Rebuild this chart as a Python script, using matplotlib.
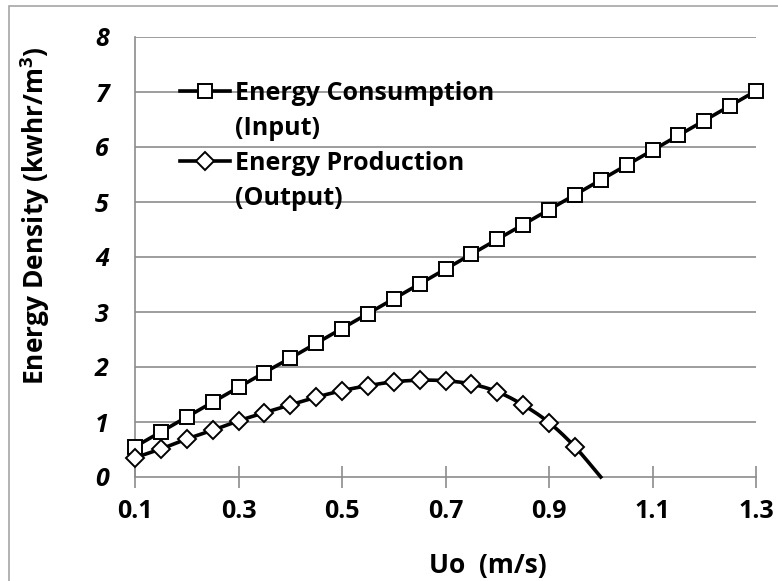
import numpy as np
import matplotlib
matplotlib.use('Agg')
import matplotlib.pyplot as plt
from matplotlib.lines import Line2D
from matplotlib.patches import Rectangle

plt.rcParams['font.family'] = ['Open Sans', 'DejaVu Sans']
plt.rcParams['font.weight'] = 'bold'
plt.rcParams['mathtext.fontset'] = 'custom'
plt.rcParams['mathtext.bf'] = 'Open Sans:bold'

# velocity (m/s)
u_in = [0.10, 0.15, 0.20, 0.25, 0.30, 0.35, 0.40, 0.45, 0.50, 0.55, 0.60, 0.65, 0.70,
        0.75, 0.80, 0.85, 0.90, 0.95, 1.00, 1.05, 1.10, 1.15, 1.20, 1.25, 1.30]
e_in = [0.55, 0.82, 1.09, 1.36, 1.63, 1.90, 2.16, 2.43, 2.70, 2.97, 3.24, 3.51, 3.78,
        4.05, 4.32, 4.59, 4.86, 5.13, 5.40, 5.67, 5.94, 6.21, 6.48, 6.75, 7.02]

u_out = [0.10, 0.15, 0.20, 0.25, 0.30, 0.35, 0.40, 0.45, 0.50, 0.55, 0.60, 0.65, 0.70,
         0.75, 0.80, 0.85, 0.90, 0.95, 1.00]
e_out = [0.35, 0.51, 0.69, 0.85, 1.02, 1.17, 1.31, 1.45, 1.57, 1.66, 1.73, 1.76, 1.75,
         1.69, 1.55, 1.31, 0.99, 0.55, 0.00]

xticks = [0.1, 0.3, 0.5, 0.7, 0.9, 1.1, 1.3]
yticks = [0, 1, 2, 3, 4, 5, 6, 7, 8]


def smooth(x, y, n=20):
    # Catmull-Rom through the points, like a smoothed line in a spreadsheet
    x = np.asarray(x, float)
    y = np.asarray(y, float)
    px = np.concatenate([[2 * x[0] - x[1]], x, [2 * x[-1] - x[-2]]])
    py = np.concatenate([[2 * y[0] - y[1]], y, [2 * y[-1] - y[-2]]])
    xs, ys = [], []
    t = np.linspace(0, 1, n, endpoint=False)
    for i in range(1, len(px) - 2):
        for p, out in ((px, xs), (py, ys)):
            p0, p1, p2, p3 = p[i - 1], p[i], p[i + 1], p[i + 2]
            out.extend(0.5 * (2 * p1 + (-p0 + p2) * t
                              + (2 * p0 - 5 * p1 + 4 * p2 - p3) * t ** 2
                              + (-p0 + 3 * p1 - 3 * p2 + p3) * t ** 3))
    xs.append(x[-1])
    ys.append(y[-1])
    return np.array(xs), np.array(ys)


fig = plt.figure(figsize=(7.78, 5.81), dpi=100)
ax = fig.add_axes([135 / 778, 1 - 477 / 581, (756 - 135) / 778, (477 - 37) / 581])

# chart border
fig.patches.append(Rectangle((9 / 778, -0.1), 1.2, 1 - 6 / 581 + 0.1,
                             transform=fig.transFigure, fill=False,
                             edgecolor='#a6a6a6', linewidth=1.2))

grid_c = '#8c8c8c'
for yv in yticks[1:]:
    ax.axhline(yv, color=grid_c, linewidth=1.2, zorder=1)

sq = dict(color='black', linewidth=2.6, marker='s', markersize=10,
          markerfacecolor='white', markeredgecolor='black', markeredgewidth=1.4)
dm = dict(color='black', linewidth=2.6, marker='D', markersize=9,
          markerfacecolor='white', markeredgecolor='black', markeredgewidth=1.4)

ax.plot(u_in, e_in, zorder=3, clip_on=False, **sq)

sx, sy = smooth(u_out, e_out)
ax.plot(sx, sy, color='black', linewidth=2.6, zorder=3, clip_on=False)
ax.plot(u_out[:-1], e_out[:-1], linestyle='none', zorder=4, clip_on=False,
        **{k: v for k, v in dm.items() if k not in ('color', 'linewidth')})

ax.set_xlim(0.1, 1.3)
ax.set_ylim(0, 8)
ax.set_xticks(xticks)
ax.set_xticklabels([f'{v:.1f}' for v in xticks], fontsize=18, fontweight='bold')
ax.set_yticks(yticks)
ax.set_yticklabels([str(v) for v in yticks], fontsize=18, fontweight='bold', style='italic')

for s in ['top', 'right']:
    ax.spines[s].set_visible(False)
for s in ['left', 'bottom']:
    ax.spines[s].set_color(grid_c)
    ax.spines[s].set_linewidth(1.2)
ax.spines['bottom'].set_zorder(2)
ax.tick_params(axis='x', direction='inout', length=16, width=1.2, color=grid_c, pad=8)
ax.tick_params(axis='y', length=0, pad=19)

blank = Line2D([], [], linestyle='none')
handles = [Line2D([], [], **sq), blank, Line2D([], [], **dm), blank]
labels = ['Energy Consumption', '(Input)', 'Energy Production', '(Output)']
leg = ax.legend(handles, labels, loc='upper left', bbox_to_anchor=(0.072, 0.90),
                frameon=False, fontsize=18, handlelength=2.0, handletextpad=0.2,
                labelspacing=0.4, borderaxespad=0, borderpad=0)
for t in leg.get_texts():
    t.set_fontweight('bold')

fig.text(488 / 778, 1 - 565 / 581, 'Uo  (m/s)', ha='center', va='center',
         fontsize=19, fontweight='bold')
fig.text(35 / 778, 1 - 216 / 581, 'Energy Density (kwhr/m$^\\mathbf{3}$)', ha='center',
         va='center', rotation=90, fontsize=19, fontweight='bold')

fig.savefig('out.png', dpi=100)
